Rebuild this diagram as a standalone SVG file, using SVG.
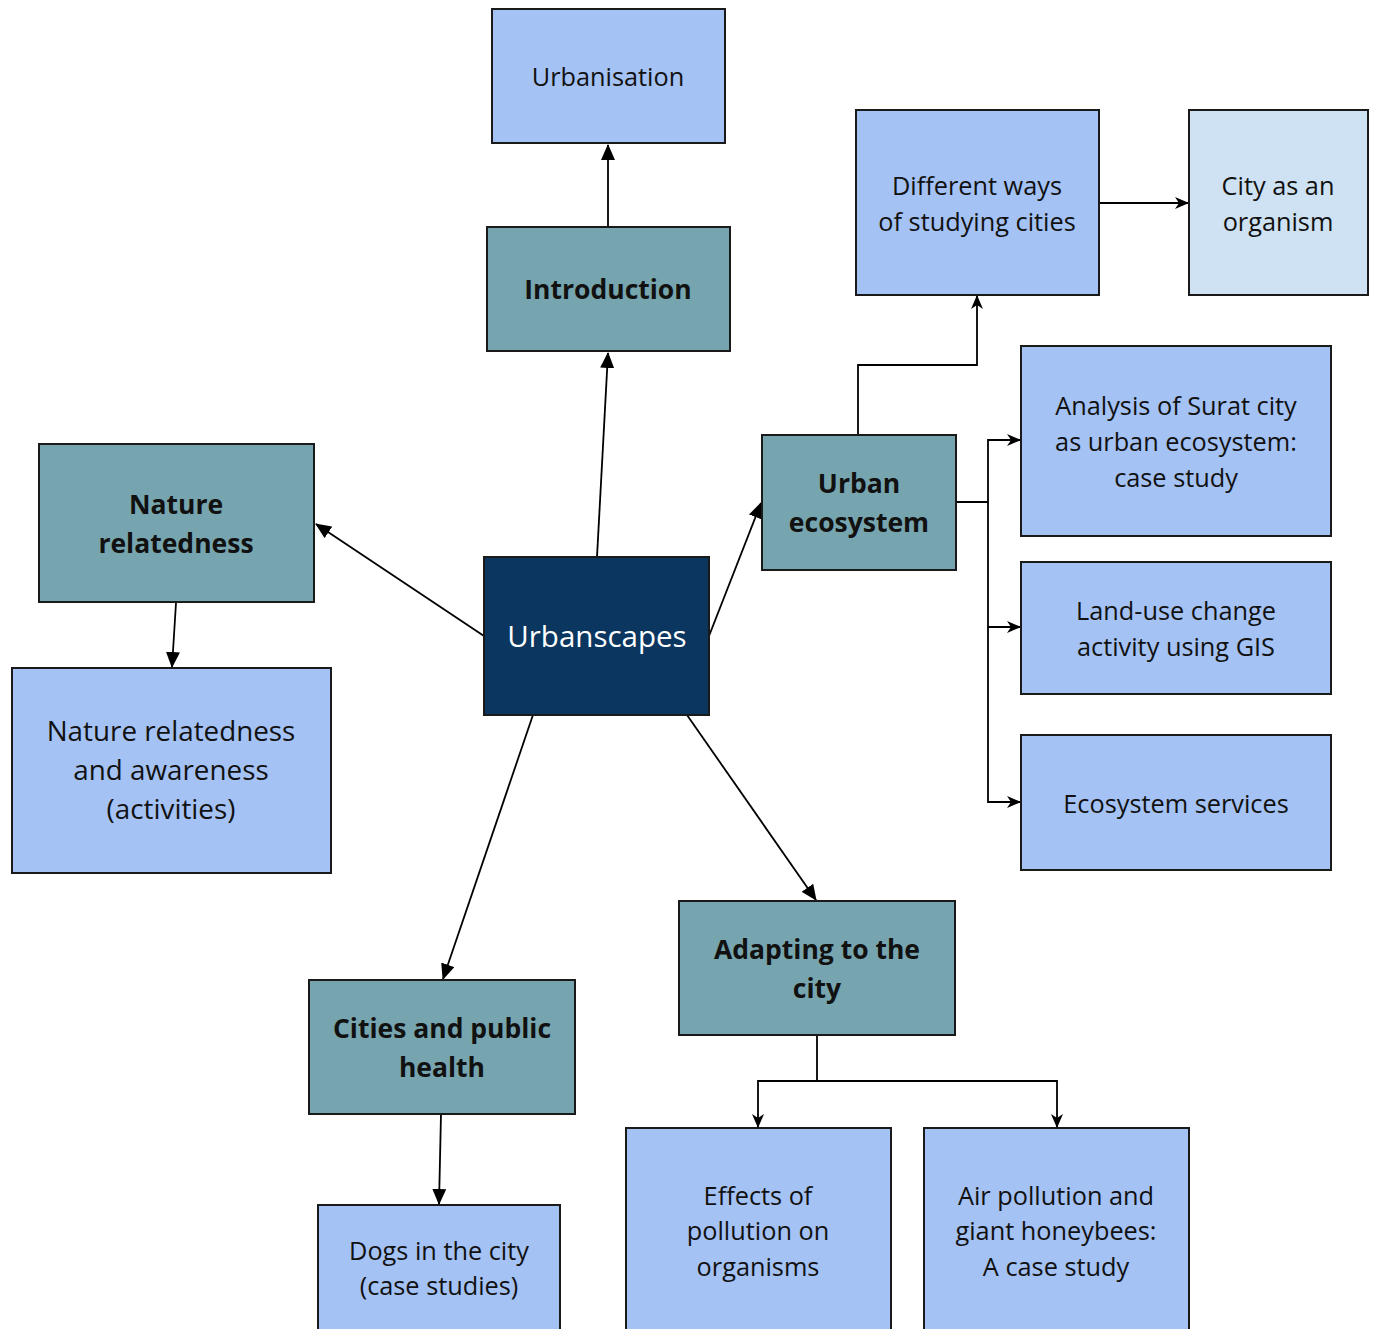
<svg xmlns="http://www.w3.org/2000/svg" width="1377" height="1329" viewBox="0 0 1377 1329">
<style>
.box{stroke:#1a1a1a;stroke-width:2}
.lb{fill:#a4c2f4}
.lt{fill:#cfe2f3}
.tl{fill:#76a5af}
.dk{fill:#0b365f}
text{font-family:"Open Sans","Noto Sans","Liberation Sans",sans-serif;text-anchor:middle;fill:#111}
.r{font-size:25.3px}
.b{font-size:26.5px;font-weight:bold}
.w{fill:#fff;font-size:29.5px}
.big{font-size:27.8px}
.c{fill:none;stroke:#000;stroke-width:1.8}
</style>
<defs>
<marker id="tri" markerWidth="16" markerHeight="14" refX="15" refY="7" orient="auto" markerUnits="userSpaceOnUse"><path d="M0,0 L16,7 L0,14 z" fill="#000"/></marker>
<marker id="stl" markerWidth="14" markerHeight="12" refX="13" refY="6" orient="auto" markerUnits="userSpaceOnUse"><path d="M0,0 L14,6 L0,12 L4,6 z" fill="#000"/></marker>
</defs>
<g id="connectors">
<path class="c" d="M597,557 L608,353" marker-end="url(#tri)"/>
<path class="c" d="M608,227 L608,145" marker-end="url(#tri)"/>
<path class="c" d="M484,636 L316,524" marker-end="url(#tri)"/>
<path class="c" d="M176,603 L172,667" marker-end="url(#tri)"/>
<path class="c" d="M709,636 L761,503" marker-end="url(#tri)"/>
<path class="c" d="M535,709 L443,979" marker-end="url(#tri)"/>
<path class="c" d="M687,715 L816,900" marker-end="url(#tri)"/>
<path class="c" d="M441,1114 L439,1204" marker-end="url(#tri)"/>
<path class="c" d="M858,435 V365 H977 V296" marker-end="url(#stl)"/>
<path class="c" d="M956,502 H988 V440 H1020" marker-end="url(#stl)"/>
<path class="c" d="M988,502 V627 H1020" marker-end="url(#stl)"/>
<path class="c" d="M988,627 V802 H1020" marker-end="url(#stl)"/>
<path class="c" d="M1099,203 H1188" marker-end="url(#stl)"/>
<path class="c" d="M817,1035 V1081 H758 V1127" marker-end="url(#stl)"/>
<path class="c" d="M817,1081 H1057 V1127" marker-end="url(#stl)"/>
</g>
<g id="urbanisation"><rect class="box lb" x="492" y="9" width="233" height="134"/><text class="r" x="608" y="86">Urbanisation</text></g>
<g id="introduction"><rect class="box tl" x="487" y="227" width="243" height="124"/><text class="b" x="608" y="299">Introduction</text></g>
<g id="different-ways"><rect class="box lb" x="856" y="110" width="243" height="185"/><text class="r" x="977" y="195">Different ways</text><text class="r" x="977" y="231">of studying cities</text></g>
<g id="city-organism"><rect class="box lt" x="1189" y="110" width="179" height="185"/><text class="r" x="1278" y="195">City as an</text><text class="r" x="1278" y="231">organism</text></g>
<g id="urban-ecosystem"><rect class="box tl" x="762" y="435" width="194" height="135"/><text class="b" x="859" y="493">Urban</text><text class="b" x="859" y="532">ecosystem</text></g>
<g id="analysis-surat"><rect class="box lb" x="1021" y="346" width="310" height="190"/><text class="r" x="1176" y="415">Analysis of Surat city</text><text class="r" x="1176" y="451">as urban ecosystem:</text><text class="r" x="1176" y="487">case study</text></g>
<g id="land-use"><rect class="box lb" x="1021" y="562" width="310" height="132"/><text class="r" x="1176" y="620">Land-use change</text><text class="r" x="1176" y="656">activity using GIS</text></g>
<g id="ecosystem-services"><rect class="box lb" x="1021" y="735" width="310" height="135"/><text class="r" x="1176" y="813">Ecosystem services</text></g>
<g id="nature-relatedness"><rect class="box tl" x="39" y="444" width="275" height="158"/><text class="b" x="176" y="514">Nature</text><text class="b" x="176" y="553">relatedness</text></g>
<g id="nature-awareness"><rect class="box lb" x="12" y="668" width="319" height="205"/><text class="r big" x="171" y="741">Nature relatedness</text><text class="r big" x="171" y="780">and awareness</text><text class="r big" x="171" y="819">(activities)</text></g>
<g id="urbanscapes"><rect class="box dk" x="484" y="557" width="225" height="158"/><text class="w" x="597" y="647">Urbanscapes</text></g>
<g id="cities-health"><rect class="box tl" x="309" y="980" width="266" height="134"/><text class="b" x="442" y="1038">Cities and public</text><text class="b" x="442" y="1077">health</text></g>
<g id="dogs"><rect class="box lb" x="318" y="1205" width="242" height="135"/><text class="r" x="439" y="1260">Dogs in the city</text><text class="r" x="439" y="1295">(case studies)</text></g>
<g id="adapting"><rect class="box tl" x="679" y="901" width="276" height="134"/><text class="b" x="817" y="959">Adapting to the</text><text class="b" x="817" y="998">city</text></g>
<g id="effects-pollution"><rect class="box lb" x="626" y="1128" width="265" height="212"/><text class="r" x="758" y="1205">Effects of</text><text class="r" x="758" y="1240">pollution on</text><text class="r" x="758" y="1276">organisms</text></g>
<g id="air-pollution"><rect class="box lb" x="924" y="1128" width="265" height="212"/><text class="r" x="1056" y="1205">Air pollution and</text><text class="r" x="1056" y="1240">giant honeybees:</text><text class="r" x="1056" y="1276">A case study</text></g>
</svg>
